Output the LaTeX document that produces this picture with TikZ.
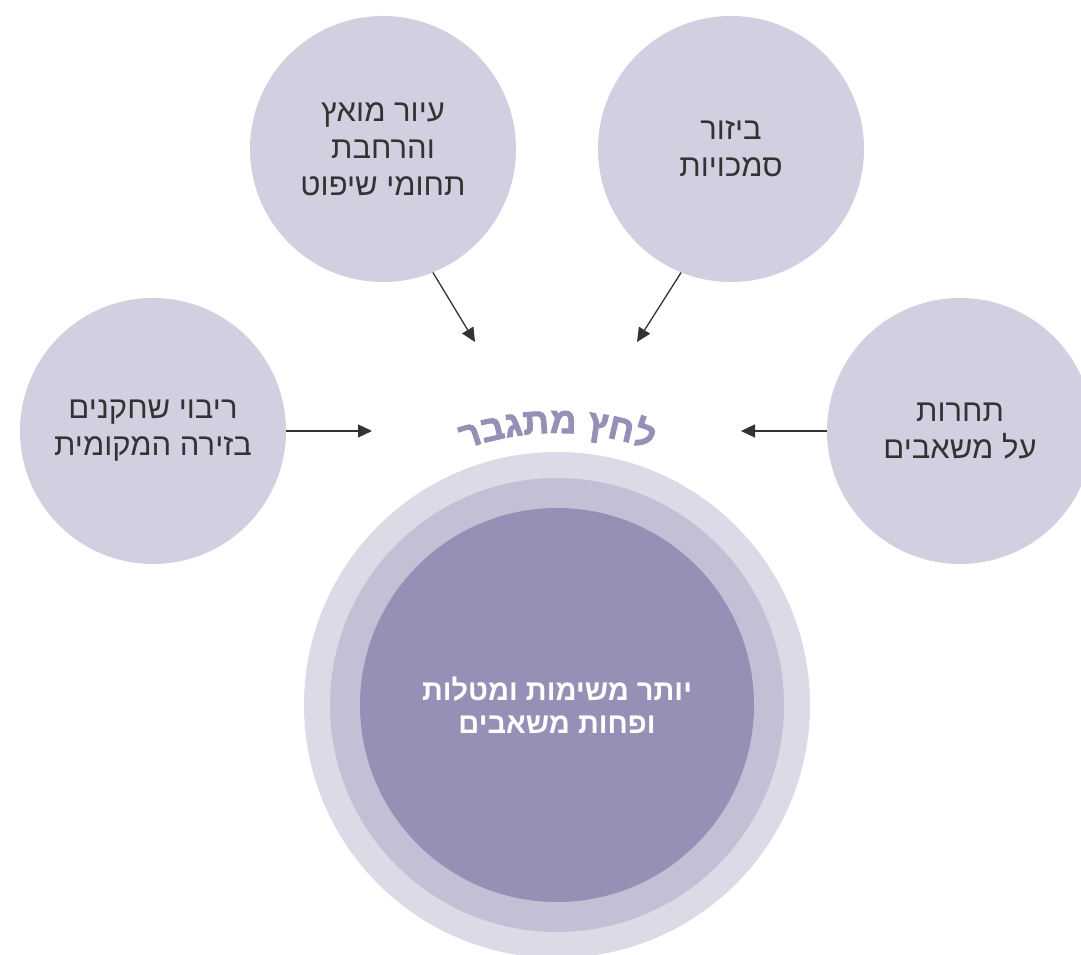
\documentclass[tikz,border=0pt]{standalone}
\usepackage{fontspec}
\usetikzlibrary{arrows.meta,calc}
\TeXXeTstate=1
\newfontfamily\hebfont[Script=Hebrew]{Liberation Sans}
\newfontfamily\hebheavy[Script=Hebrew,FakeBold=2.2]{Liberation Sans}
\definecolor{bubble}{HTML}{D1CFE0}
\definecolor{ringout}{HTML}{DCDAE6}
\definecolor{ringmid}{HTML}{C3C0D6}
\definecolor{ringin}{HTML}{9590B6}
\definecolor{curvetext}{HTML}{9590B6}
\definecolor{inktext}{HTML}{333333}
\newcommand{\curvefont}{\hebheavy\bfseries\fontsize{36.5pt}{36.5pt}\selectfont}
\newlength{\titlelen}
\newlength{\charlen}
\tikzset{
  bubblenode/.style={circle, fill=bubble, minimum size=266pt, inner sep=0pt, align=center,
    text=inktext, font=\hebfont\fontsize{31pt}{37pt}\selectfont},
  pusharrow/.style={draw=inktext, line width=1.3pt, -{Triangle[length=14pt,width=13pt]}},
  titlechar/.style={font=\curvefont, text=curvetext, inner sep=0pt, anchor=base}
}
\begin{document}
% Measure the letters of the curved title (left to right)
\settowidth{\titlelen}{\curvefont\beginR לחץ מתגבר\endR}
\xdef\titletotal{\the\titlelen}
\foreach \ch [count=\k] in {ר,ב,ג,ת,מ,\ ,ץ,ח,ל} {%
  \settowidth{\charlen}{\curvefont\ch}%
  \expandafter\xdef\csname titlew\k\endcsname{\the\charlen}}%
\begin{tikzpicture}[x=1pt,y=1pt]
% Set the canvas
\clip (0,0) rectangle (1081,955);
\fill[white] (0,0) rectangle (1081,955);

% Draw the rings of the core
\fill[ringout] (557,250) circle[radius=253];
\fill[ringmid] (557,250) circle[radius=227];
\node[circle, fill=ringin, minimum size=394pt, inner sep=0pt, align=center, text=white,
  font=\hebfont\bfseries\fontsize{29pt}{33pt}\selectfont] (core) at (557,250)
  {\beginR יותר משימות ומטלות\endR\\\beginR ופחות משאבים\endR};

% Draw the four pressures
\node[bubblenode] (judge) at (383,806) {\beginR עיור מואץ\endR\\\beginR והרחבת\endR\\\beginR תחומי שיפוט\endR};
\node[bubblenode] (power) at (731,806) {\beginR ביזור\endR\\\beginR סמכויות\endR};
\node[bubblenode] (actors) at (153,524) {\beginR ריבוי שחקנים\endR\\\beginR בזירה המקומית\endR};
\node[bubblenode] (rivals) at (960,524) {\beginR תחרות\endR\\\beginR על משאבים\endR};

% Arrow ends
\coordinate (judgeend) at (475,613);
\coordinate (powerend) at (637,613);
\coordinate (actorsend) at (372,524);
\coordinate (rivalsend) at (741,524);

\draw[pusharrow] (judge.-68) -- (judgeend);
\draw[pusharrow] (power.-112) -- (powerend);
\draw[pusharrow] (actors.east) -- (actorsend);
\draw[pusharrow] (rivals.west) -- (rivalsend);

% Curved title over the core, one letter at a time
\xdef\titleoff{0}
\foreach \ch [count=\k] in {ר,ב,ג,ת,מ,\ ,ץ,ח,ל} {
  \edef\chw{\csname titlew\k\endcsname}
  \pgfmathsetmacro\chang{90+deg((0.5*\titletotal-\titleoff-0.5*\chw)/272)}
  \node[titlechar, rotate=\chang-90] (title\k) at ($(core.center)+(\chang:272)$) {\ch};
  \pgfmathsetmacro\newoff{\titleoff+\chw}
  \xdef\titleoff{\newoff}
}
\end{tikzpicture}
\end{document}
